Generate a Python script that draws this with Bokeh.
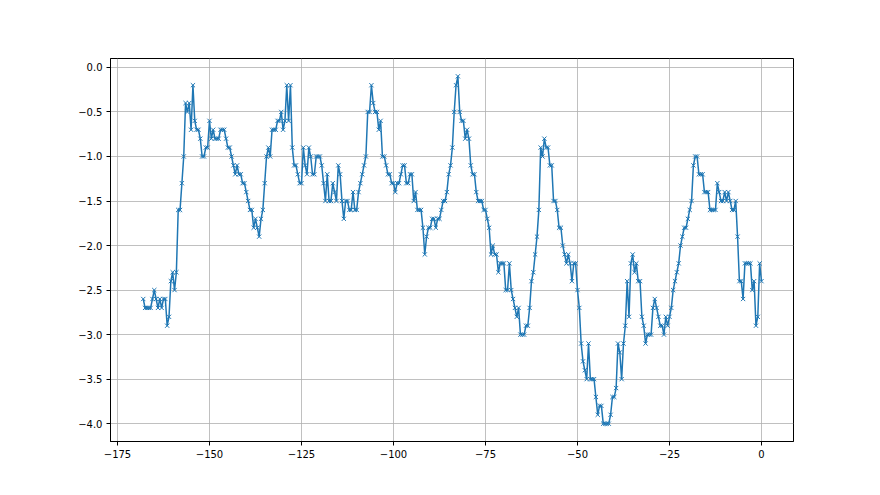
from bokeh.plotting import figure
from bokeh.models import FixedTicker, Range1d, ColumnDataSource
from bokeh.embed import file_html
from bokeh.resources import INLINE

# values, left to right (step 0.5, ending at x = 0)
seg1 = [-2.6, -2.7, -2.7, -2.7, -2.7, -2.6, -2.5, -2.6, -2.7, -2.6, -2.7, -2.6, -2.6, -2.9, -2.8,
        -2.4, -2.3, -2.5, -2.3, -1.6, -1.6, -1.3, -1.0, -0.4, -0.5, -0.4, -0.7, -0.2, -0.6, -0.7,
        -0.7, -0.8, -1.0, -1.0, -0.9, -0.9]
seg2 = [-0.6, -0.8, -0.7, -0.8, -0.8, -0.8, -0.7, -0.7, -0.7, -0.8, -0.9, -0.9, -1.0, -1.1, -1.2,
        -1.1, -1.2, -1.2, -1.3, -1.3, -1.4, -1.5, -1.6, -1.6, -1.8, -1.7, -1.8, -1.9, -1.7, -1.6,
        -1.3, -1.0, -0.9, -1.0, -0.7, -0.7, -0.7, -0.6, -0.6]
seg3 = [-0.5, -0.7, -0.6, -0.2, -0.6, -0.2, -0.9, -1.1, -1.1, -1.2, -1.3, -1.3, -0.9, -1.1, -1.2,
        -0.9, -1.0, -1.2, -1.2, -1.0, -1.0, -1.0, -1.1, -1.3, -1.5, -1.2, -1.5, -1.5, -1.3, -1.4,
        -1.5, -1.1, -1.2, -1.5, -1.7, -1.5, -1.5, -1.6, -1.6, -1.4, -1.6]
seg4 = [-1.6, -1.4, -1.3, -1.2, -1.1, -1.0, -0.5, -0.5, -0.2, -0.4, -0.5, -0.5, -0.7, -0.6, -1.0,
        -1.0, -1.1, -1.2, -1.2, -1.3, -1.3, -1.4, -1.3, -1.3, -1.2, -1.1, -1.1, -1.3, -1.3, -1.2,
        -1.2, -1.5, -1.4, -1.6, -1.6, -1.6, -1.8, -2.1, -1.9]
seg5 = [-1.8, -1.8, -1.7, -1.7, -1.8, -1.7, -1.7, -1.6, -1.5, -1.5, -1.4, -1.2, -1.1, -0.9, -0.5,
        -0.2, -0.1, -0.5, -0.6, -0.6, -0.8, -0.7, -0.8, -1.1, -1.2, -1.2, -1.4, -1.5, -1.5, -1.5,
        -1.6, -1.6, -1.7, -1.8, -2.1, -2.0, -2.1, -2.1, -2.3, -2.2, -2.2]
seg6 = [-2.2, -2.5, -2.5, -2.2, -2.5, -2.6, -2.7, -2.8, -2.7, -3.0, -3.0, -3.0, -2.9, -2.9, -2.7,
        -2.4, -2.3, -2.1, -1.9, -1.6, -0.9, -1.0, -0.8, -0.9, -0.9, -1.1, -1.1, -1.5, -1.5, -1.6,
        -1.8, -1.8, -2.0, -2.1, -2.2, -2.1, -2.2, -2.4, -2.2, -2.2, -2.5, -2.7]
seg7 = [-3.1, -3.3, -3.4, -3.5, -3.1, -3.5, -3.5, -3.5, -3.7, -3.9, -3.8, -3.8, -4.0, -4.0, -4.0,
        -4.0, -3.9, -3.7, -3.7, -3.6, -3.1, -3.2, -3.5, -3.1, -2.9, -2.4, -2.8, -2.2, -2.1, -2.3,
        -2.2, -2.4, -2.4, -2.8, -2.9, -3.1, -3.0, -3.0, -3.0, -2.7, -2.6]
seg8 = [-2.7, -2.8, -2.9, -2.9, -3.0, -2.8, -2.9, -2.8, -2.7, -2.5, -2.4, -2.3, -2.2, -2.0, -1.9,
        -1.8, -1.8, -1.7, -1.6, -1.5, -1.1, -1.0, -1.0, -1.2, -1.2, -1.2, -1.4, -1.4, -1.4, -1.6,
        -1.6, -1.6, -1.6, -1.3, -1.4, -1.5, -1.5, -1.4, -1.5, -1.4, -1.5]
seg9 = [-1.6, -1.6, -1.5, -1.9, -2.4, -2.4, -2.6, -2.2, -2.2, -2.2, -2.2, -2.5, -2.4, -2.9, -2.8,
        -2.2, -2.4]

y_values = seg1 + seg2 + seg3 + seg4 + seg5 + seg6 + seg7 + seg8 + seg9
x_step = 0.5
x_values = [x_step * (i - (len(y_values) - 1)) for i in range(len(y_values))]

x_ticks = [-175, -150, -125, -100, -75, -50, -25, 0]
x_tick_labels = ["\u2212175", "\u2212150", "\u2212125", "\u2212100", "\u221275", "\u221250", "\u221225", "0"]
y_ticks = [-4.0, -3.5, -3.0, -2.5, -2.0, -1.5, -1.0, -0.5, 0.0]
y_tick_labels = ["\u22124.0", "\u22123.5", "\u22123.0", "\u22122.5", "\u22122.0", "\u22121.5", "\u22121.0", "\u22120.5", "0.0"]

src = ColumnDataSource(data=dict(x=x_values, y=y_values))

p = figure(width=872, height=487, output_backend="svg", toolbar_location=None,
           x_range=Range1d(-176.9, 8.7), y_range=Range1d(-4.2, 0.1),
           min_border_left=110, min_border_right=79, min_border_top=58, min_border_bottom=46)

p.line("x", "y", source=src, line_color="#1f77b4", line_width=1.5)
p.scatter("x", "y", source=src, marker="x", size=6, line_color="#1f77b4", line_width=1)

p.xaxis.ticker = FixedTicker(ticks=x_ticks)
p.yaxis.ticker = FixedTicker(ticks=y_ticks)
p.xaxis.major_label_overrides = {t: l for t, l in zip(x_ticks, x_tick_labels)}
p.yaxis.major_label_overrides = {t: l for t, l in zip(y_ticks, y_tick_labels)}

for ax in (p.xaxis, p.yaxis):
    ax.axis_line_color = "black"
    ax.axis_line_width = 1
    ax.major_tick_line_color = "black"
    ax.major_tick_out = 4
    ax.major_tick_in = 0
    ax.minor_tick_line_color = None
    ax.major_label_text_font = "DejaVu Sans"
    ax.major_label_text_font_size = "10px"
    ax.major_label_text_color = "black"
    ax.major_label_standoff = 4

p.xgrid.grid_line_color = "#b0b0b0"
p.ygrid.grid_line_color = "#b0b0b0"
p.xgrid.grid_line_width = 0.8
p.ygrid.grid_line_width = 0.8

p.outline_line_color = "black"
p.outline_line_width = 1
p.background_fill_color = "white"
p.border_fill_color = "white"

open("out.html", "w").write(file_html(p, INLINE))
